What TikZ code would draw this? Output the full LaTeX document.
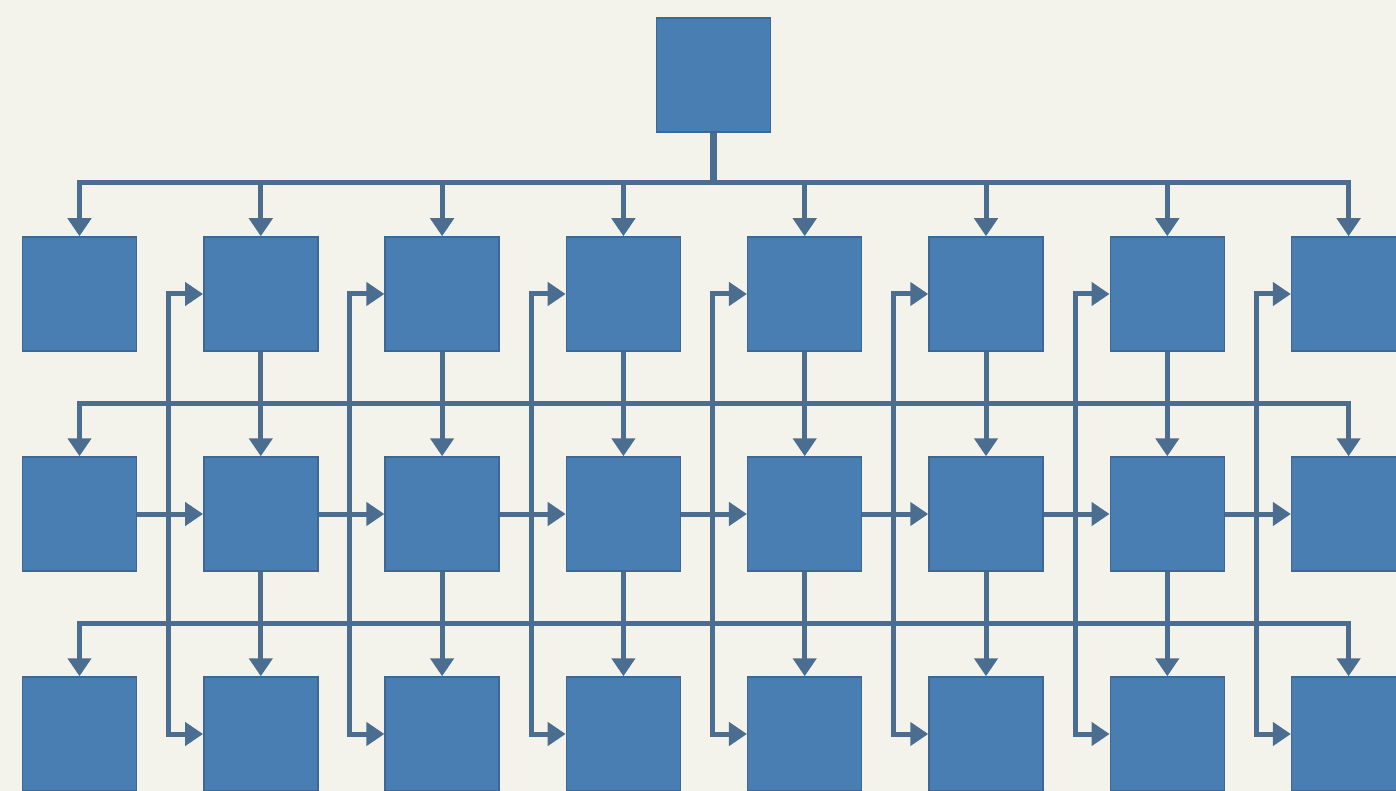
\documentclass[tikz,border=0pt]{standalone}
\usetikzlibrary{arrows.meta}
\definecolor{paper}{HTML}{F3F3EC}
\definecolor{boxfill}{HTML}{487EB1}
\definecolor{boxedge}{HTML}{3D6896}
\definecolor{wire}{HTML}{4A6D90}
\begin{document}
\begin{tikzpicture}[x=1pt,y=-1pt,
  box/.style={rectangle, minimum size=114pt, inner sep=0pt, fill=boxfill, draw=boxedge, line width=1.5pt},
  head/.tip={Triangle[width=23pt,length=18pt]},
  wireline/.style={draw=wire, line width=5pt},
  link/.style={wireline, -head},
  dlink/.style={wireline, head-head},
  trunk/.style={draw=wire, line width=7pt}]
  \fill[paper] (0,0) rectangle (1396,791);
  \useasboundingbox (0,0) rectangle (1396,791);
  \clip (0,0) rectangle (1396,791);

  % root and the three rows of eight boxes
  \node[box] (top) at (713.5,75) {};
  \foreach \r/\yy in {1/294,2/514,3/734}{
    \foreach \c in {1,...,8}{
      \node[box] (b\r-\c) at ({79.5+181.3*(\c-1)},\yy) {};
    }
  }

  % bus rails
  \coordinate (h0) at (0,183);
  \coordinate (h1) at (0,403);
  \coordinate (h2) at (0,623);

  % root fan-out to the first row
  \draw[trunk] (top.south) -- (top.south |- h0);
  \draw[dlink] (b1-1.north) |- (h0 -| b1-8.north) -- (b1-8.north);
  \foreach \c in {2,...,7}{
    \draw[link] (h0 -| b1-\c.north) -- (b1-\c.north);
  }

  % rails between the rows
  \draw[dlink] (b2-1.north) |- (h1 -| b2-8.north) -- (b2-8.north);
  \draw[dlink] (b3-1.north) |- (h2 -| b3-8.north) -- (b3-8.north);

  % vertical drops
  \foreach \c in {2,...,7}{
    \draw[link] (b1-\c.south) -- (b2-\c.north);
    \draw[link] (b2-\c.south) -- (b3-\c.north);
  }

  % middle row chain
  \foreach \c [evaluate=\c as \n using int(\c+1)] in {1,...,7}{
    \draw[link] (b2-\c.east) -- (b2-\n.west);
  }

  % long side feeders into the first and third rows
  \foreach \c [evaluate=\c as \n using int(\c+1)] in {1,...,7}{
    \coordinate (v\c) at ({168.65+181.3*(\c-1)},514);
    \draw[dlink] (b1-\n.west) -| (v\c) |- (b3-\n.west);
  }
\end{tikzpicture}
\end{document}
